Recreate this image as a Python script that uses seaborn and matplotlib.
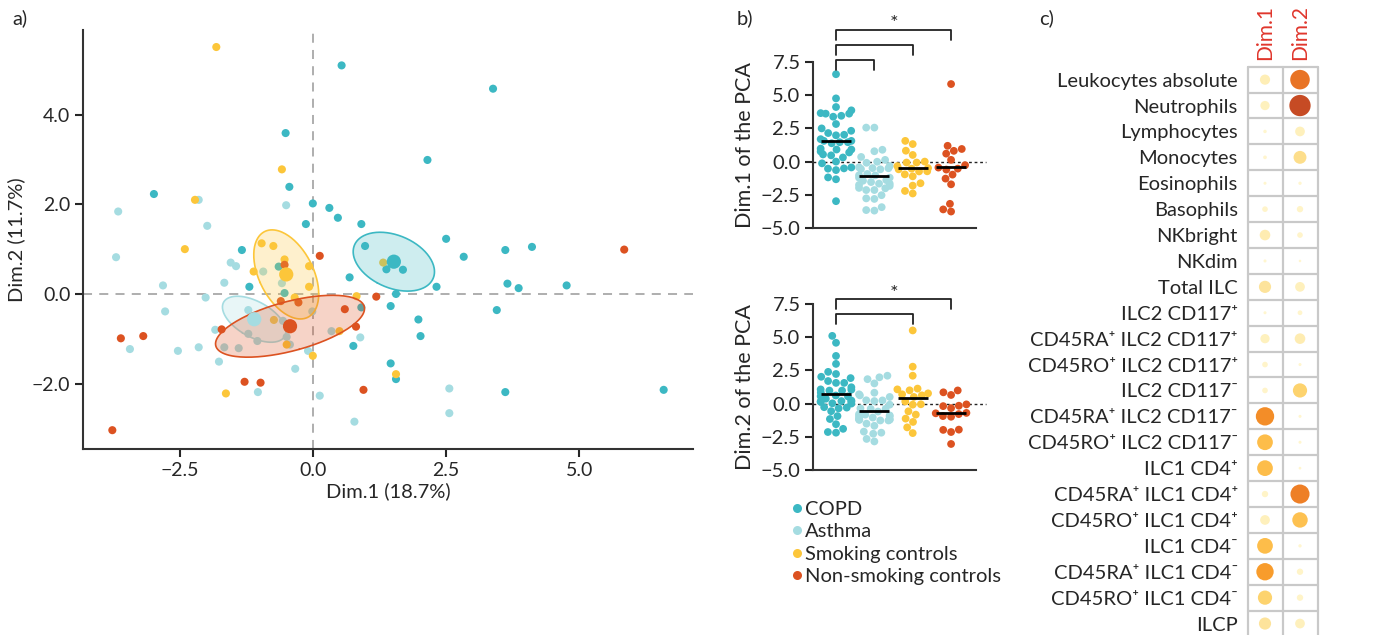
import numpy as np
import pandas as pd
import matplotlib
matplotlib.use("Agg")
import matplotlib.pyplot as plt
import seaborn as sns
from matplotlib.colors import LinearSegmentedColormap
from matplotlib.lines import Line2D
from matplotlib.ticker import FuncFormatter
import matplotlib.transforms as mtransforms

# ---------------- data ----------------
groups = ["COPD", "Asthma", "Smoking controls", "Non-smoking controls"]
group_colors = ["#3CB8C3", "#A5DCE1", "#FCC63A", "#DC5221"]

copd_dim1 = [0.54, -0.51, -0.44, -2.98, 0.00, 0.31, 0.47, -0.13, 0.91, -1.33, 0.98, -0.64, 0.69,
             -1.19, -0.53, 1.56, 1.46, 0.91, 0.76, 1.46, 1.56, 3.38, 2.15, 2.50, 2.83, 3.61, 4.11,
             1.69, 2.32, 3.65, 3.86, 4.76, 3.45, 1.98, 2.02, 3.61, 6.58, 1.38]
copd_dim2 = [5.10, 3.59, 2.39, 2.23, 2.02, 1.92, 1.70, 1.56, 1.56, 0.98, 1.07, 0.61, 0.37,
             0.16, 0.02, 0.00, -0.27, -0.30, -1.16, -1.55, -1.90, 4.58, 2.99, 1.23, 0.83, 0.98, 1.05,
             0.54, 0.16, 0.23, 0.13, 0.19, -0.36, -0.57, -0.94, -2.19, -2.14, 0.55]

asthma_dim1 = [-2.14, -3.65, -0.50, -1.98, -3.69, -1.54, -1.44, -0.93, -2.81, -1.66, -0.58, -2.01,
               -2.77, -1.21, -0.56, -0.01, -1.83, -1.21, -1.04, -0.49, -0.43, -1.66, -1.39, -0.09,
               -1.76, -0.33, -3.43, -2.53, -2.14, -1.03, 0.13, 0.78, 0.89, 0.35, 2.56, 2.56]
asthma_dim2 = [2.10, 1.84, 1.98, 1.52, 0.82, 0.70, 0.62, 0.50, 0.19, 0.25, 0.24, -0.08,
               -0.39, -0.36, -0.60, -0.39, -0.80, -0.89, -1.05, -0.96, -1.13, -1.19, -1.21, -1.27,
               -1.51, -1.67, -1.23, -1.27, -1.19, -2.19, -2.27, -2.85, -0.97, -0.83, -2.11, -2.66]

smoking_dim1 = [-1.81, -0.58, -2.21, -2.40, -0.96, -0.74, -0.53, -0.07, -1.11, 1.32, -0.07, -0.34,
                -0.73, 0.82, 0.50, -0.49, 0.00, 1.56, -1.63]
smoking_dim2 = [5.51, 2.78, 2.10, 1.00, 1.13, 1.07, 0.77, 0.62, 0.50, 0.70, 0.16, -0.08,
                -0.58, -0.05, -0.83, -1.13, -1.38, -1.79, -2.22]

nonsmoking_dim1 = [-3.76, -3.60, -3.18, -1.71, -1.28, -0.98, -0.53, -0.60, -0.27, 0.13, 0.60, 1.19,
                   0.81, 0.95, 5.84, -0.45]
nonsmoking_dim2 = [-3.04, -0.99, -0.94, -0.79, -1.96, -1.98, 0.65, -0.16, -0.19, 0.85, -0.34, -0.06,
                   -0.73, -2.14, 0.99, -0.70]

dim1_label = "Dim.1 (18.7%)"
dim2_label = "Dim.2 (11.7%)"

dim1_comparisons = [("COPD", "Asthma", ""), ("COPD", "Smoking controls", ""),
                    ("COPD", "Non-smoking controls", "*")]
dim2_comparisons = [("COPD", "Smoking controls", ""), ("COPD", "Non-smoking controls", "*")]

variables = ["Leukocytes absolute", "Neutrophils", "Lymphocytes", "Monocytes", "Eosinophils",
             "Basophils", "NKbright", "NKdim", "Total ILC", "ILC2 CD117\u207a",
             "CD45RA\u207a ILC2 CD117\u207a", "CD45RO\u207a ILC2 CD117\u207a", "ILC2 CD117\u207b",
             "CD45RA\u207a ILC2 CD117\u207b", "CD45RO\u207a ILC2 CD117\u207b", "ILC1 CD4\u207a",
             "CD45RA\u207a ILC1 CD4\u207a", "CD45RO\u207a ILC1 CD4\u207a", "ILC1 CD4\u207b",
             "CD45RA\u207a ILC1 CD4\u207b", "CD45RO\u207a ILC1 CD4\u207b", "ILCP"]
cos2_dim1 = [0.11, 0.09, 0.008, 0.01, 0.005, 0.03, 0.12, 0.005, 0.16, 0.005,
             0.09, 0.03, 0.03, 0.37, 0.27, 0.27, 0.04, 0.10, 0.27, 0.33, 0.22, 0.16]
cos2_dim2 = [0.42, 0.50, 0.10, 0.18, 0.007, 0.04, 0.03, 0.002, 0.10, 0.02,
             0.12, 0.005, 0.22, 0.005, 0.005, 0.003, 0.40, 0.26, 0.007, 0.04, 0.04, 0.10]
dim_names = ["Dim.1", "Dim.2"]

# ---------------- style ----------------
sns.set_theme(style="white")
FONT = ["Lato", "DejaVu Sans"]
plt.rcParams["font.family"] = FONT
plt.rcParams["axes.unicode_minus"] = True
TXT = "#262626"
plt.rcParams["text.color"] = TXT
plt.rcParams["axes.labelcolor"] = TXT
plt.rcParams["xtick.color"] = TXT
plt.rcParams["ytick.color"] = TXT

W, H = 1376, 635
fig = plt.figure(figsize=(W / 100, H / 100), dpi=100)


def px_axes(x0, y0, x1, y1):
    return fig.add_axes([x0 / W, 1 - y1 / H, (x1 - x0) / W, (y1 - y0) / H])


fmt1 = FuncFormatter(lambda v, p: f"{v:.1f}".replace("-", "\u2212"))

# long data
frames = []
for g, d1, d2 in zip(groups, [copd_dim1, asthma_dim1, smoking_dim1, nonsmoking_dim1],
                     [copd_dim2, asthma_dim2, smoking_dim2, nonsmoking_dim2]):
    frames.append(pd.DataFrame({"group": g, "dim1": d1, "dim2": d2}))
df = pd.concat(frames, ignore_index=True)
means = df.groupby("group", sort=False)[["dim1", "dim2"]].mean().reindex(groups).reset_index()
pal = dict(zip(groups, group_colors))

# ---------------- panel a ----------------
ax = px_axes(83, 30, 693, 449)
ax.axhline(0, color="#A8A8A8", ls=(0, (5, 4)), lw=1.3, zorder=0)
ax.axvline(0, color="#A8A8A8", ls=(0, (5, 4)), lw=1.3, zorder=0)
sns.scatterplot(data=df, x="dim1", y="dim2", hue="group", hue_order=groups, palette=pal,
                s=34, linewidth=0, legend=False, ax=ax, zorder=2)


def conf_ellipse(x, y, chi2=5.991, npts=200):
    x = np.asarray(x, float)
    y = np.asarray(y, float)
    cov = np.cov(x, y) / len(x)
    vals, vecs = np.linalg.eigh(cov)
    t = np.linspace(0, 2 * np.pi, npts)
    circ = np.vstack([np.cos(t), np.sin(t)])
    pts = vecs @ (np.sqrt(vals * chi2)[:, None] * circ)
    return x.mean() + pts[0], y.mean() + pts[1]


for g in groups:
    sub = df[df.group == g]
    ex, ey = conf_ellipse(sub.dim1, sub.dim2)
    ax.fill(ex, ey, facecolor=pal[g], alpha=0.25, edgecolor="none", zorder=3)
    ax.plot(ex, ey, color=pal[g], lw=1.2, zorder=3)
sns.scatterplot(data=means, x="dim1", y="dim2", hue="group", hue_order=groups, palette=pal,
                s=105, linewidth=0, legend=False, ax=ax, zorder=4)
ax.set_xlim(-4.31, 7.13)
ax.set_ylim(-3.46, 5.89)
ax.set_xticks([-2.5, 0.0, 2.5, 5.0])
ax.set_yticks([-2.0, 0.0, 2.0, 4.0])
ax.xaxis.set_major_formatter(fmt1)
ax.yaxis.set_major_formatter(fmt1)
ax.set_xlabel(dim1_label, fontsize=14.5, labelpad=3)
ax.set_ylabel(dim2_label, fontsize=14.5, labelpad=5)
ax.tick_params(axis="both", labelsize=14, length=6, width=1.5, direction="out",
               bottom=True, left=True, pad=3)
for s in ["top", "right"]:
    ax.spines[s].set_visible(False)
for s in ["left", "bottom"]:
    ax.spines[s].set_color("#333333")
    ax.spines[s].set_linewidth(1.5)

# ---------------- panel b ----------------
def strip_panel(axb, col, comps, ylabel, levels):
    axb.axhline(0, color="#222222", ls=(0, (2, 2)), lw=1.0, zorder=0, xmax=1.06, clip_on=False)
    sns.swarmplot(data=df, x="group", y=col, hue="group", order=groups, hue_order=groups,
                  palette=pal, size=5.6, linewidth=0, legend=False, ax=axb, zorder=2)
    for i, g in enumerate(groups):
        m = df.loc[df.group == g, col].mean()
        axb.hlines(m, i - 0.39, i + 0.39, color="black", lw=2.0, zorder=5)
    axb.set_xlim(-0.6, 3.65)
    axb.set_ylim(-5.0, 7.5)
    axb.set_yticks([-5.0, -2.5, 0.0, 2.5, 5.0, 7.5])
    axb.yaxis.set_major_formatter(fmt1)
    axb.set_xticks([])
    axb.set_xlabel("")
    axb.set_ylabel(ylabel, fontsize=15.5, labelpad=4)
    axb.tick_params(axis="y", labelsize=14.5, length=6, width=1.5, left=True, pad=3)
    for s in ["top", "right"]:
        axb.spines[s].set_visible(False)
    for s in ["left", "bottom"]:
        axb.spines[s].set_color("#333333")
        axb.spines[s].set_linewidth(1.5)
    tr = mtransforms.blended_transform_factory(axb.transData, axb.transAxes)
    leg = 10 / 166
    for (a, b, lab), lev in zip(comps, levels):
        ia, ib = groups.index(a), groups.index(b)
        axb.plot([ia, ia, ib, ib], [lev - leg, lev, lev, lev - leg], color="#222222", lw=1.3,
                 transform=tr, clip_on=False)
        if lab:
            axb.text((ia + ib) / 2, lev - 0.015, lab, transform=tr, ha="center", va="bottom",
                     fontsize=14.5)


axb1 = px_axes(813, 62, 976, 228)
strip_panel(axb1, "dim1", dim1_comparisons, "Dim.1 of the PCA", [1.012, 1.102, 1.193])
axb2 = px_axes(813, 304, 976, 470)
strip_panel(axb2, "dim2", dim2_comparisons, "Dim.2 of the PCA", [0.94, 1.03])

handles = [Line2D([0], [0], marker="o", color="none", markerfacecolor=c, markeredgewidth=0,
                  markersize=6.5) for c in group_colors]
fig.legend(handles, groups, loc="upper left", bbox_to_anchor=(789 / W, 1 - 501 / H),
           frameon=False, fontsize=14.5, handletextpad=0.0, handlelength=0.8,
           labelspacing=0.26, borderaxespad=0, borderpad=0)

# ---------------- panel c ----------------
cmap = LinearSegmentedColormap.from_list(
    "cos2", [(0.0, "#FFF6D0"), (0.2, "#FEF0BC"), (0.32, "#FDE39A"), (0.44, "#FDD36E"),
             (0.54, "#FDBD4A"), (0.66, "#F89C2C"), (0.76, "#F28A27"), (0.84, "#E97424"),
             (1.0, "#C64B24")])
rows = []
for i, v in enumerate(variables):
    for j, vals in enumerate([cos2_dim1, cos2_dim2]):
        rows.append({"row": i, "col": j, "value": vals[i]})
cdf = pd.DataFrame(rows)

axc = px_axes(1247.5, 66.7, 1317.5, 636.5)
sns.scatterplot(data=cdf, x="col", y="row", hue="value", size="value", palette=cmap,
                hue_norm=(0, 0.5), sizes=(2.5, 235), size_norm=(0, 0.5), linewidth=0,
                legend=False, ax=axc, zorder=3)
axc.set_xlim(-0.5, 1.5)
axc.set_ylim(len(variables) - 0.5, -0.5)
for k in range(len(variables) + 1):
    axc.axhline(k - 0.5, color="#C9C9C9", lw=1.6, zorder=1, clip_on=False)
for k in range(3):
    axc.axvline(k - 0.5, color="#C9C9C9", lw=1.6, zorder=1, clip_on=False)
for s in axc.spines.values():
    s.set_visible(False)
axc.set_yticks(range(len(variables)))
axc.set_yticklabels(variables, fontsize=14.5)
axc.xaxis.tick_top()
axc.set_xticks([0, 1])
axc.set_xticklabels(dim_names, rotation=90, fontsize=15, color="#E0362C")
axc.tick_params(axis="y", length=0, pad=7)
axc.tick_params(axis="x", length=0, pad=5)
axc.set_xlabel("")
axc.set_ylabel("")

# panel letters
fig.text(12 / W, 1 - 18 / H, "a)", fontsize=14.5, va="center", ha="left")
fig.text(737 / W, 1 - 18 / H, "b)", fontsize=14.5, va="center", ha="left")
fig.text(1039 / W, 1 - 18 / H, "c)", fontsize=14.5, va="center", ha="left")

fig.savefig("out.png", dpi=100)
